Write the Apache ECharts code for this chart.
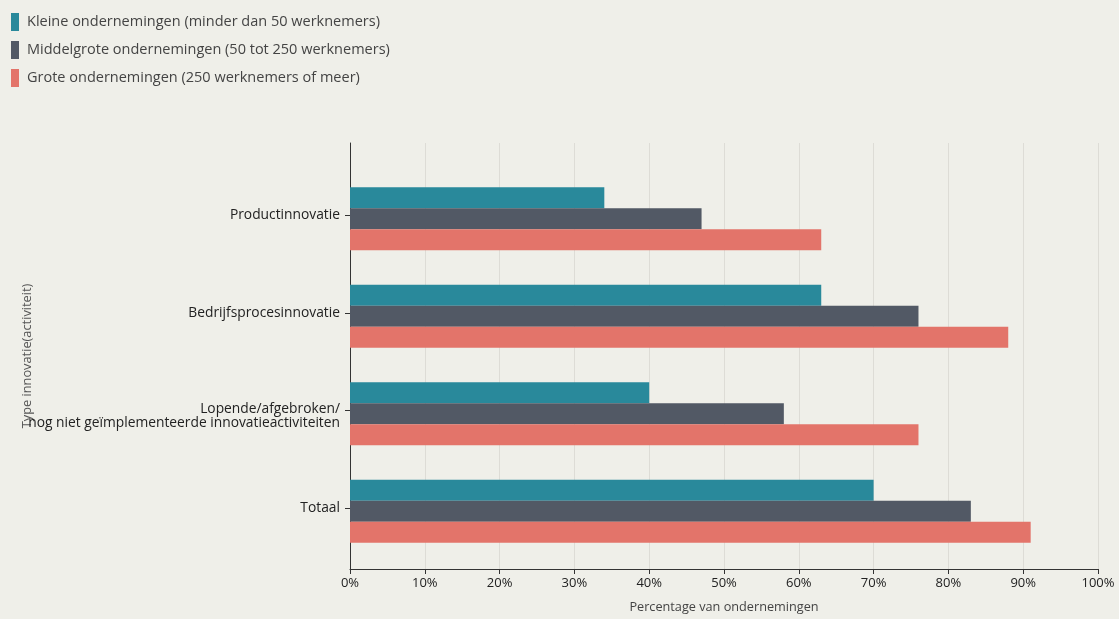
<!DOCTYPE html>
<html>
<head>
<meta charset="utf-8">
<script src="https://cdn.jsdelivr.net/npm/echarts@6/dist/echarts.min.js"></script>
<style>
  html, body { margin: 0; padding: 0; background: #efefe9; }
  #chart { width: 1119px; height: 619px; }
</style>
</head>
<body>
<div id="chart"></div>
<script>
// Innovation types, top to bottom
const categories = [
  'Productinnovatie',
  'Bedrijfsprocesinnovatie',
  'Lopende/afgebroken/\nnog niet geïmplementeerde innovatieactiviteiten',
  'Totaal'
];

// Share of enterprises (%) per size class
const kleine = [34, 63, 40, 70];
const middelgrote = [47, 76, 58, 83];
const grote = [63, 88, 76, 91];

const seriesNames = [
  'Kleine ondernemingen (minder dan 50 werknemers)',
  'Middelgrote ondernemingen (50 tot 250 werknemers)',
  'Grote ondernemingen (250 werknemers of meer)'
];
const colors = ['#29899b', '#525965', '#e3746a'];

const font = "'Open Sans', 'Noto Sans', sans-serif";

const chart = echarts.init(document.getElementById('chart'), null, { renderer: 'canvas' });

const mkSeries = (name, data, color) => ({
  name,
  type: 'bar',
  xAxisIndex: 1,
  yAxisIndex: 1,
  data,
  barWidth: 21,
  barGap: '0%',
  itemStyle: { color },
  emphasis: { disabled: true }
});

// two-line labels: first line sits on the tick, second line below it
const categoryLabel = v => {
  const lines = v.split('\n');
  if (lines.length === 1) return '{s|' + v + '}';
  return '{f|' + lines[0] + '}\n' + lines.slice(1).map(l => '{n|' + l + '}').join('\n');
};

const labelText = { fontFamily: font, fontSize: 13.8, color: '#222' };

chart.setOption({
  backgroundColor: '#efefe9',
  animation: false,
  color: colors,
  legend: {
    orient: 'vertical',
    left: 11,
    top: 13,
    padding: 0,
    itemWidth: 8,
    itemHeight: 18,
    itemGap: 10,
    icon: 'rect',
    textStyle: { fontFamily: font, fontSize: 14.5, color: '#444', padding: [0, 0, 0, 3] },
    data: seriesNames
  },
  grid: [
    // frame: axis lines, grid lines and tick labels
    { left: 350, right: 21, top: 143, bottom: 41 },
    // bar area: category bands
    { left: 350, right: 21, top: 170, height: 390 },
    // category ticks and labels, sitting a little above the bar groups
    { left: 350, right: 21, top: 166.5, height: 390 }
  ],
  xAxis: [
    {
      gridIndex: 0,
      type: 'value',
      min: 0,
      max: 100,
      interval: 10,
      name: 'Percentage van ondernemingen',
      nameLocation: 'middle',
      nameGap: 32,
      nameTextStyle: { fontFamily: font, fontSize: 12.7, color: '#444' },
      axisLine: { show: true, lineStyle: { color: '#333', width: 1 } },
      axisTick: { show: true, length: 5, lineStyle: { color: '#333' } },
      axisLabel: {
        fontFamily: font, fontSize: 13, color: '#222', margin: 8,
        formatter: v => v + '%'
      },
      splitLine: { show: true, lineStyle: { color: '#dddcd6', width: 1 } }
    },
    { gridIndex: 1, type: 'value', min: 0, max: 100, show: false },
    { gridIndex: 2, type: 'value', min: 0, max: 100, show: false }
  ],
  yAxis: [
    {
      gridIndex: 0,
      type: 'value',
      min: 0,
      max: 1,
      name: 'Type innovatie(activiteit)',
      nameLocation: 'middle',
      nameGap: 316,
      nameRotate: 90,
      nameTextStyle: { fontFamily: font, fontSize: 12.8, color: '#555' },
      axisLine: { show: true, lineStyle: { color: '#333', width: 1 } },
      axisTick: { show: false },
      axisLabel: { show: false },
      splitLine: { show: false }
    },
    {
      gridIndex: 1,
      type: 'category',
      inverse: true,
      data: categories,
      axisLine: { show: false },
      axisTick: { show: false },
      axisLabel: { show: false },
      splitLine: { show: false }
    },
    {
      gridIndex: 2,
      type: 'category',
      inverse: true,
      data: categories,
      axisLine: { show: false },
      axisTick: { show: true, alignWithLabel: true, length: 5, lineStyle: { color: '#333' } },
      axisLabel: {
        ...labelText,
        margin: 10,
        formatter: categoryLabel,
        rich: {
          s: { ...labelText, lineHeight: 14 },
          f: { ...labelText, lineHeight: 26, verticalAlign: 'bottom' },
          n: { ...labelText, lineHeight: 14 }
        }
      },
      splitLine: { show: false }
    }
  ],
  series: [
    mkSeries(seriesNames[0], kleine, colors[0]),
    mkSeries(seriesNames[1], middelgrote, colors[1]),
    mkSeries(seriesNames[2], grote, colors[2])
  ]
});
</script>
</body>
</html>
